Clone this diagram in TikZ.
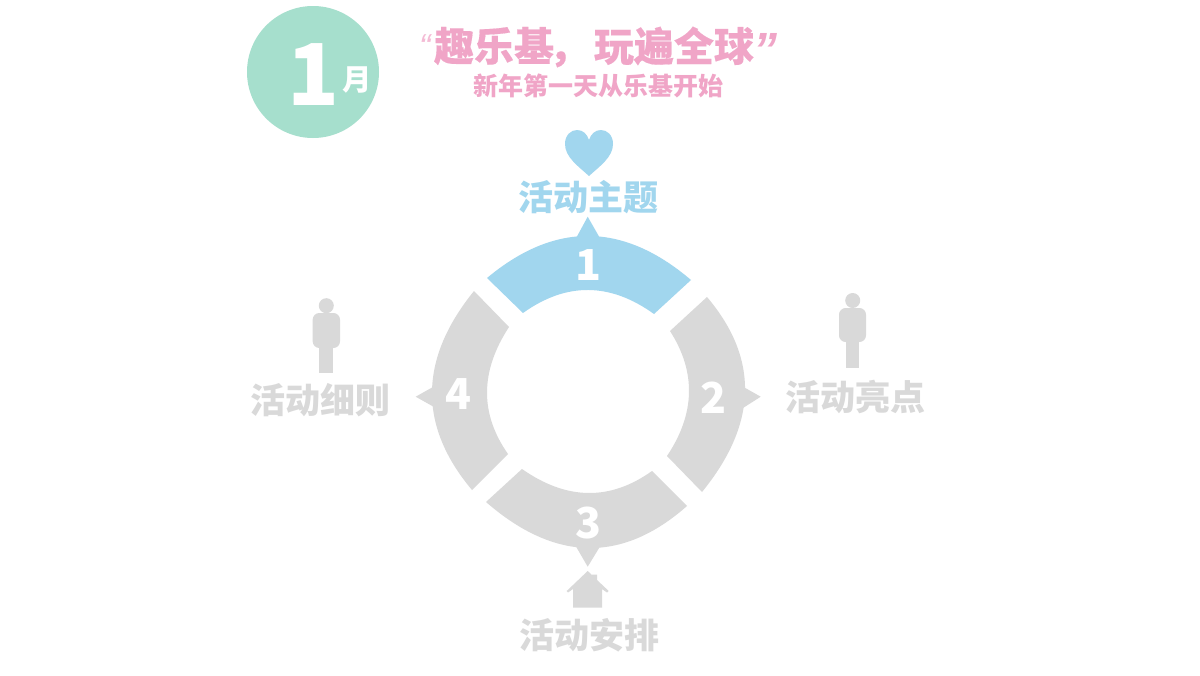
\documentclass[tikz,border=0pt]{standalone}
\usepackage{fontspec}
\newfontfamily\cjk{Noto Sans CJK SC}
\newfontfamily\cjkheavy{Noto Sans CJK SC}[BoldFeatures={FakeBold=0.3}]
\newfontfamily\quotefont{Liberation Sans}
\definecolor{mint}{HTML}{A6DFCD}
\definecolor{pinkt}{HTML}{F0A5C7}
\definecolor{bluet}{HTML}{A1D6EE}
\definecolor{grayt}{HTML}{D9D9D9}
\newcommand{\pxfont}[1]{\fontsize{#1}{#1}\selectfont}
\tikzset{
  lbl/.style={inner sep=0pt,outer sep=0pt,font=\cjk\bfseries\pxfont{26.25pt}},
  num/.style={inner sep=0pt,outer sep=0pt,text=white,font=\cjk\bfseries\pxfont{32pt}},
  seg/.style={fill=#1,draw=none},
  person/.style={fill=grayt,draw=none}
}
\begin{document}
\begin{tikzpicture}[x=0.75pt,y=-0.75pt]
\useasboundingbox (0,0) rectangle (1200,675);
\fill[white] (0,0) rectangle (1200,675);
% month badge
\fill[mint] (313,72) circle (66);
\node[inner sep=0pt,text=white,font=\cjk\bfseries\pxfont{64pt}] (mon) at (313.5,74.5) {1};
\node[inner sep=0pt,text=white,font=\cjk\bfseries\pxfont{22pt}] (yue) at (357,80) {月};
% titles
\node[inner sep=0pt,text=pinkt!75,font=\quotefont\itshape\pxfont{26pt}] (ql) at (425,47) {“};
\node[inner sep=0pt,text=pinkt,font=\cjkheavy\bfseries\pxfont{30pt}] (title) at (594,47) {趣乐基\hspace{-4pt}\symbol{"FF0C}\hspace{4pt}玩遍全球};
\node[inner sep=0pt,text=pinkt,font=\quotefont\bfseries\itshape\pxfont{36pt}] (qr) at (765,50) {”};
\node[inner sep=0pt,text=pinkt,font=\cjk\bfseries\pxfont{18.75pt}] (sub) at (598,86) {新年第一天从乐基开始};
% segment 1
\fill[seg=bluet] (487,278) .. controls (555,221.3) and (623,222) .. (691,280)
  -- (654,314) .. controls (610,282.3) and (566.3,282) .. (523,313) -- cycle;
\fill[seg=bluet] (576.7,237) -- (587.7,216.7) -- (599.3,237) -- cycle;
% segment 2
\fill[seg=grayt] (707,297) .. controls (759.3,358.7) and (757.7,423.7) .. (702,492)
  -- (667,456) .. controls (695.3,413.7) and (696.3,372) .. (670,331) -- cycle;
\fill[seg=grayt] (743,386.7) -- (760.7,396.7) -- (743,408) -- cycle;
% segment 3
\fill[seg=grayt] (486,502) .. controls (555,562) and (622,563.3) .. (687,506)
  -- (652,471) .. controls (610,501) and (566.7,500.3) .. (522,469) -- cycle;
\fill[seg=grayt] (576,546.5) -- (587.7,566.7) -- (600,546.5) -- cycle;
% segment 4
\fill[seg=grayt] (474,291) .. controls (418.7,359.3) and (418,425.7) .. (472,490)
  -- (508,454) .. controls (479.7,413.7) and (480,371.3) .. (509,327) -- cycle;
\fill[seg=grayt] (433.5,386.7) -- (415.7,396.7) -- (433.5,406.7) -- cycle;
% numbers
\node[num] (n1) at (588.5,265) {1};
\node[num] (n2) at (713.5,398) {2};
\node[num] (n3) at (588.5,523) {3};
\node[num] (n4) at (458.5,394) {4};
% heart
\fill[bluet] (589,176) .. controls (578,166) and (565,157) .. (565,144)
  .. controls (565,135) and (571,130) .. (577,130)
  .. controls (583,130) and (587,134) .. (589,140)
  .. controls (591,134) and (595,130) .. (601,130)
  .. controls (607,130) and (613,135) .. (613,144)
  .. controls (613,157) and (600,166) .. (589,176) -- cycle;
% persons
\fill[person] (326.3,305.7) circle (7.5);
\fill[person,rounded corners=5pt] (312.7,313) rectangle (340,348);
\fill[person] (319,340) rectangle (333,373);
\fill[person] (852.7,300.5) circle (7.5);
\fill[person,rounded corners=5pt] (839,308) rectangle (866,342);
\fill[person] (846,335) rectangle (859,368);
% house
\fill[grayt] (587.7,571) -- (592,575) -- (592,574.5) -- (597,574.5) -- (597,580) -- (608.7,591)
  -- (607,592.5) -- (602,589) -- (602,607.7) -- (573,607.7) -- (573,589) -- (568,592.5) -- (566.7,591) -- cycle;
% labels
\node[lbl,text=bluet] (l1) at (588,197) {活动主题};
\node[lbl,text=grayt] (l2) at (855.5,397) {活动亮点};
\node[lbl,text=grayt] (l3) at (589,635) {活动安排};
\node[lbl,text=grayt] (l4) at (320.5,400) {活动细则};
\end{tikzpicture}
\end{document}
